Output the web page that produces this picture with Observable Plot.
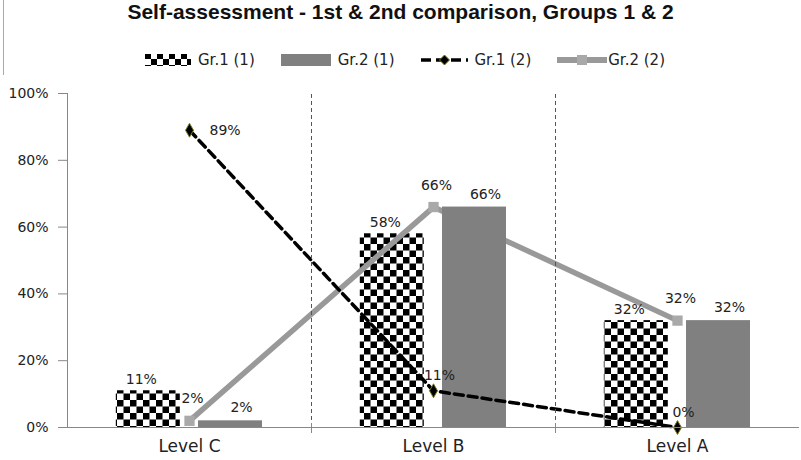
<!DOCTYPE html>
<html><head><meta charset="utf-8">
<script src="https://cdn.jsdelivr.net/npm/d3@7"></script>
<script src="https://cdn.jsdelivr.net/npm/@observablehq/plot@0.6"></script>
<style>
body{margin:0;background:#fff;}
#chart{position:relative;width:801px;height:460px;overflow:hidden;font-family:"DejaVu Sans",sans-serif;background:#fff;}
#title{position:absolute;left:0;top:0;width:801px;height:32px;line-height:32px;text-align:center;font:bold 21px "Liberation Sans",Arial,sans-serif;color:#111;}
#legend{position:absolute;left:9px;top:48px;width:792px;height:24px;display:flex;justify-content:center;align-items:center;gap:26px;font-size:15px;color:#222;}
.item{display:flex;align-items:center;gap:7px;}
.item svg{display:block;}
#plot{position:absolute;left:0;top:75px;}
#border{position:absolute;left:3px;top:0;width:1px;height:460px;background:#aaa;}
</style></head>
<body>
<div id="chart">
  <div id="border"></div>
  <div id="title">Self-assessment - 1st &amp; 2nd comparison, Groups 1 &amp; 2</div>
  <div id="legend"></div>
  <div id="plot"></div>
</div>
<script>
// ---- data ----
const categories = ["Level C", "Level B", "Level A"];
const seriesNames = ["Gr.1 (1)", "Gr.2 (1)", "Gr.1 (2)", "Gr.2 (2)"];
const gr1_1 = [11, 58, 32];   // checker bars
const gr2_1 = [2, 66, 32];    // gray bars
const gr1_2 = [89, 11, 0];    // black dashed line
const gr2_2 = [2, 66, 32];    // gray line
const yTicks = [0, 20, 40, 60, 80, 100];

const rows = categories.map((c, i) => ({cat: c, g11: gr1_1[i], g21: gr2_1[i], g12: gr1_2[i], g22: gr2_2[i], i}));
const pct = d => d + "%";

// ---- layout ----
const W = 801, H = 385, mL = 67, mR = 2, mT = 18, mB = 33;
const bw = (W - mL - mR) / categories.length;
const barW = 64;
const chkLeft = bw * 0.2;
const grayLeft = bw / 2 + 9;

const GRAY_BAR = "#808080", GRAY_LINE = "#999999", GRAY_MARK = "#a9a9a9";

const plot = Plot.plot({
  width: W, height: H,
  marginLeft: mL, marginRight: mR, marginTop: mT, marginBottom: mB,
  style: {fontFamily: "DejaVu Sans, sans-serif", fontSize: "14px", color: "#222", background: "#fff"},
  x: {type: "band", domain: categories, padding: 0, label: null},
  y: {domain: [0, 100], label: null},
  marks: [
    // checker bars (Gr.1 (1))
    Plot.barY(rows, {x: "cat", y: "g11", fill: "url(#checker)", insetLeft: chkLeft, insetRight: bw - chkLeft - barW}),
    // gray line (Gr.2 (2))
    Plot.line(rows, {x: "cat", y: "g22", stroke: GRAY_LINE, strokeWidth: 5.5}),
    Plot.dot(rows, {x: "cat", y: "g22", symbol: "square", r: 5.8, fill: GRAY_MARK, stroke: "none"}),
    // gray bars (Gr.2 (1))
    Plot.barY(rows, {x: "cat", y: "g21", fill: GRAY_BAR, insetLeft: grayLeft, insetRight: bw - grayLeft - barW}),
    // black dashed line (Gr.1 (2))
    Plot.line(rows, {x: "cat", y: "g12", stroke: "#000", strokeWidth: 3.5, strokeDasharray: "9,5"}),
    Plot.dot(rows, {x: "cat", y: "g12", symbol: "diamond", r: 4.2, fill: "#000", stroke: "#7a7a20", strokeWidth: 1}),
    // category separators
    Plot.ruleX(categories.slice(0, -1), {x: d => d, dx: bw / 2, y1: 0, y2: 100, stroke: "#555", strokeDasharray: "4,3", strokeWidth: 1}),
    Plot.ruleX(categories.slice(0, -1), {x: d => d, dx: bw / 2, y1: 0, y2: 0, insetTop: -4, insetBottom: -6, stroke: "#888"}),
    // axis lines
    Plot.ruleX([categories[0]], {x: d => d, dx: -bw / 2, y1: 0, y2: 100, stroke: "#888"}),
    Plot.ruleY([0], {stroke: "#888"}),
    Plot.axisY({ticks: yTicks, tickFormat: pct, tickSize: 9, tickPadding: 10, stroke: "#888", fontSize: 14, label: null}),
    Plot.axisX({tickSize: 0, tickPadding: 12, fontSize: 17, label: null}),
    // data labels
    Plot.text(rows, {x: "cat", y: "g11", text: d => pct(d.g11), dx: chkLeft + barW / 2 - bw / 2 - 7, dy: -11, fontSize: 14, fill: "#222"}),
    Plot.text(rows, {x: "cat", y: "g21", text: d => pct(d.g21), dx: grayLeft + barW / 2 - bw / 2 + 11, dy: -13, fontSize: 14, fill: "#222"}),
    Plot.text(rows.filter(d => d.i === 0), {x: "cat", y: "g12", text: d => pct(d.g12), dx: 20, textAnchor: "start", fontSize: 14, fill: "#222"}),
    Plot.text(rows.filter(d => d.i > 0), {x: "cat", y: "g12", text: d => pct(d.g12), dx: 6, dy: -15, fontSize: 14, fill: "#222"}),
    Plot.text(rows, {x: "cat", y: "g22", text: d => pct(d.g22), dx: 3, dy: -22, fontSize: 14, fill: "#222"})
  ]
});

// checker pattern
const svg = d3.select(plot.tagName.toLowerCase() === "svg" ? plot : plot.querySelector("svg"));
const defs = svg.insert("defs", ":first-child");
const p = defs.append("pattern").attr("id", "checker").attr("patternUnits", "userSpaceOnUse").attr("width", 13).attr("height", 13);
p.append("rect").attr("width", 13).attr("height", 13).attr("fill", "#fff");
p.append("rect").attr("width", 6.5).attr("height", 6.5).attr("fill", "#000");
p.append("rect").attr("x", 6.5).attr("y", 6.5).attr("width", 6.5).attr("height", 6.5).attr("fill", "#000");
document.getElementById("plot").appendChild(plot);

// ---- legend ----
const swatches = [
  `<svg width="46" height="14"><defs><pattern id="chkL" patternUnits="userSpaceOnUse" width="12" height="12"><rect width="12" height="12" fill="#fff"/><rect width="6" height="6" fill="#000"/><rect x="6" y="6" width="6" height="6" fill="#000"/></pattern></defs><rect x="0" y="1" width="46" height="12" fill="url(#chkL)"/></svg>`,
  `<svg width="50" height="14"><rect x="0" y="1" width="50" height="12" fill="${GRAY_BAR}"/></svg>`,
  `<svg width="47" height="14"><line x1="0" y1="7" x2="47" y2="7" stroke="#000" stroke-width="3.5" stroke-dasharray="10,5"/><path d="M23.5,2 L28.5,7 L23.5,12 L18.5,7Z" fill="#000" stroke="#7a7a20" stroke-width="1"/></svg>`,
  `<svg width="50" height="14"><line x1="0" y1="7" x2="50" y2="7" stroke="${GRAY_LINE}" stroke-width="6"/><rect x="20" y="2" width="10" height="10" fill="${GRAY_MARK}"/></svg>`
];
const legend = document.getElementById("legend");
seriesNames.forEach((name, k) => {
  const it = document.createElement("div");
  it.className = "item";
  if (k === 3) it.style.gap = "1px";
  it.innerHTML = swatches[k] + `<span>${name}</span>`;
  legend.appendChild(it);
});
</script>
</body></html>
